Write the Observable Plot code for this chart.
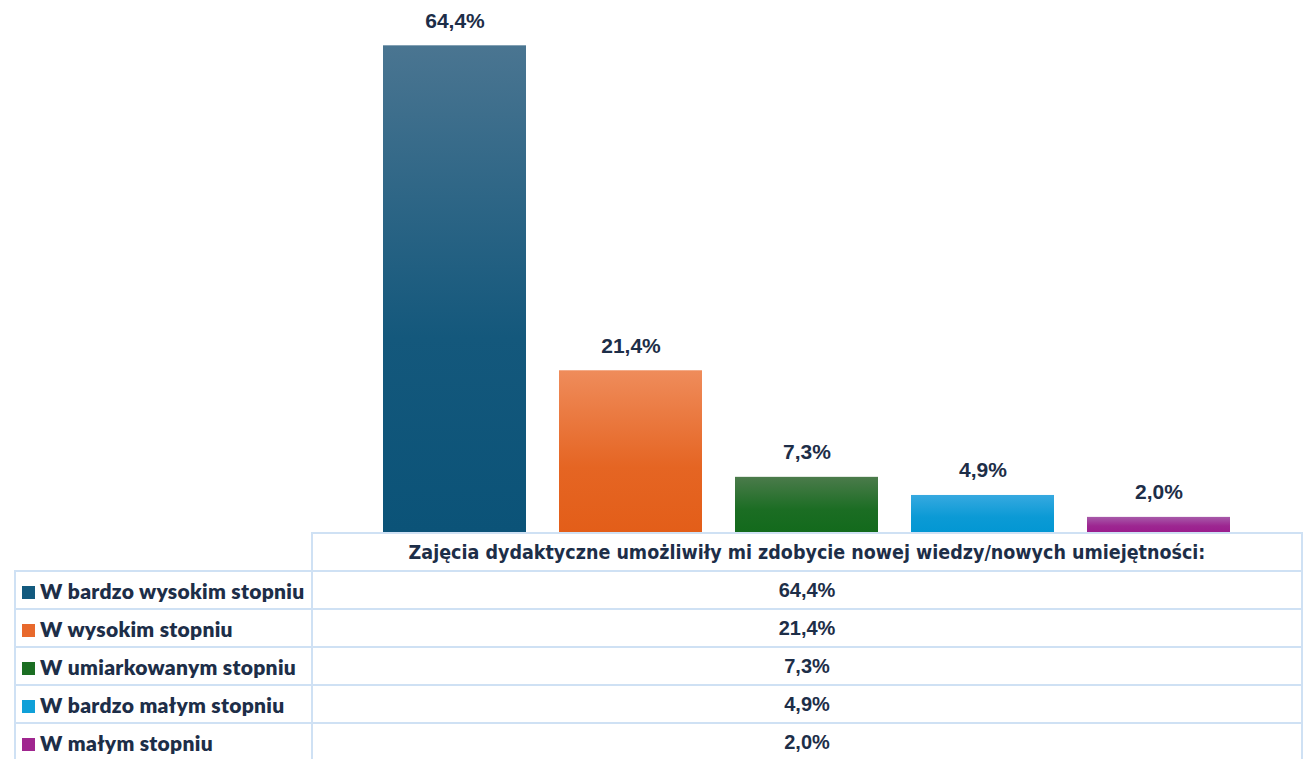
<!DOCTYPE html>
<html><head><meta charset="utf-8">
<script src="https://cdn.jsdelivr.net/npm/d3@7"></script>
<script src="https://cdn.jsdelivr.net/npm/@observablehq/plot@0.6"></script>
<style>
html,body{margin:0;padding:0;background:#fff;width:1306px;height:759px;overflow:hidden;position:relative;}
#chart{position:absolute;left:0;top:0;}
table{position:absolute;left:14px;top:532px;border-collapse:collapse;table-layout:fixed;width:1287px;}
td{border:2px solid #cfe1f4;height:36px;padding:0;color:#1d2e48;}
td.lab{font-family:Lato,"Open Sans",sans-serif;font-weight:800;font-size:21px;letter-spacing:0.3px;padding-left:6px;white-space:nowrap;}
td.val{font-family:"Liberation Sans",Arial,sans-serif;font-weight:bold;font-size:20px;text-align:center;}
td.head{font-family:"Liberation Sans Narrow","DejaVu Sans Condensed",sans-serif;font-weight:bold;font-size:19.5px;text-align:center;}
td.empty{border:none;}
.sw{display:inline-block;width:13px;height:13px;margin-right:5px;vertical-align:0px;}
</style>
</head><body>
<div id="chart"></div>
<table id="tbl"></table>
<script>
const categories = ["W bardzo wysokim stopniu","W wysokim stopniu","W umiarkowanym stopniu","W bardzo małym stopniu","W małym stopniu"];
const values = [64.4, 21.4, 7.3, 4.9, 2.0];
const colors = ["#135a7e","#e8692c","#1b6e22","#0fa0d8","#a0268f"];
const gradTop = ["#4a7591","#ef8c5b","#4b7b4b","#36a9e0","#a75aa9"];
const gradBottom = ["#0b5378","#e35e19","#136a1c","#0397d3","#9b1d8d"];
const header = "Zajęcia dydaktyczne umożliwiły mi zdobycie nowej wiedzy/nowych umiejętności:";

const fmt = v => v.toFixed(1).replace(".", ",") + "%";
const data = categories.map((c,i)=>({cat:c, value:values[i], idx:i}));

const svg = Plot.plot({
  width: 1306, height: 533,
  marginLeft: 366, marginRight: 59, marginTop: 3, marginBottom: 1,
  x: {domain: categories, axis: null, paddingInner: 0.19, paddingOuter: 0.095},
  y: {domain: [0, 70], axis: null},
  color: {type: "identity"},
  marks: [
    Plot.barY(data, {x: "cat", y: "value", fill: d => `url(#grad${d.idx})`}),
    Plot.text(data, {x: "cat", y: "value", text: d => fmt(d.value), dy: -25,
      fontSize: 21, fontWeight: "bold", fill: "#1d2e48", fontFamily: "Liberation Sans, Arial, sans-serif"})
  ]
});
const defs = d3.select(svg).insert("defs", ":first-child");
categories.forEach((c,i)=>{
  const g = defs.append("linearGradient").attr("id", "grad"+i).attr("x1",0).attr("y1",0).attr("x2",0).attr("y2",1);
  g.append("stop").attr("offset","0%").attr("stop-color", gradTop[i]);
  g.append("stop").attr("offset","60%").attr("stop-color", d3.interpolateRgb(gradTop[i], gradBottom[i])(0.85));
  g.append("stop").attr("offset","100%").attr("stop-color", gradBottom[i]);
});
document.getElementById("chart").appendChild(svg);

const tbl = d3.select("#tbl");
const cg = tbl.append("colgroup");
cg.append("col").style("width","297px");
cg.append("col").style("width","990px");
const hr = tbl.append("tr");
hr.append("td").attr("class","empty");
hr.append("td").attr("class","head").text(header);
categories.forEach((c,i)=>{
  const r = tbl.append("tr");
  const l = r.append("td").attr("class","lab");
  l.append("span").attr("class","sw").style("background", colors[i]);
  l.append("span").text(c);
  r.append("td").attr("class","val").text(fmt(values[i]));
});
</script>
</body></html>
